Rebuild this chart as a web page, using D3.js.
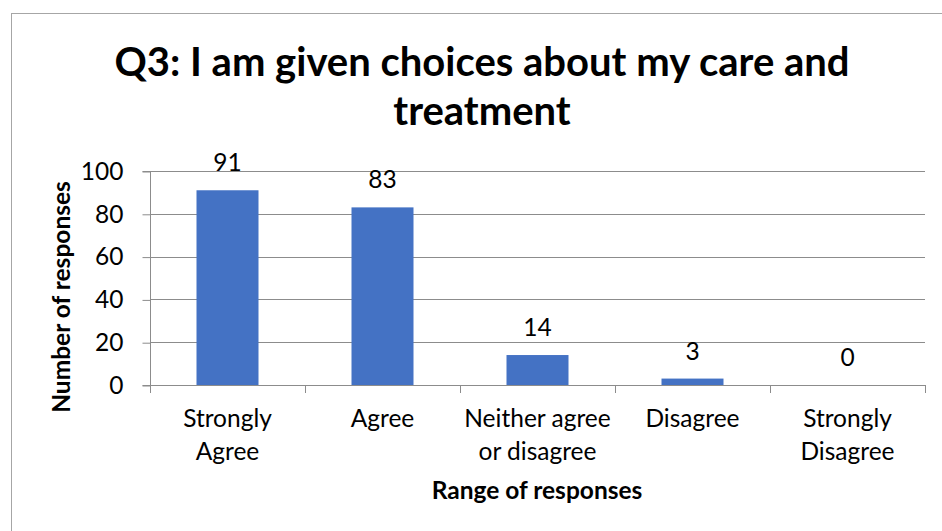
<!DOCTYPE html>
<html>
<head>
<meta charset="utf-8">
<script src="https://cdn.jsdelivr.net/npm/d3@7"></script>
<style>
  html, body { margin: 0; padding: 0; background: #fff; }
  svg { display: block; font-family: Lato, "Open Sans", sans-serif; }
</style>
</head>
<body>
<svg id="chart" width="942" height="531"></svg>
<script>
// Survey responses for Q3
const categories = [["Strongly", "Agree"], ["Agree"], ["Neither agree", "or disagree"], ["Disagree"], ["Strongly", "Disagree"]];
const responses = [91, 83, 14, 3, 0];
const yTicks = [0, 20, 40, 60, 80, 100];
const titleLines = ["Q3: I am given choices about my care and", "treatment"];
const xTitle = "Range of responses";
const yTitle = "Number of responses";

const svg = d3.select("#chart");
const plot = { left: 150, right: 925, top: 171, bottom: 385 };
const labelSize = 24.5;

// outer chart frame
svg.append("rect")
  .attr("x", 11.5).attr("y", 13.5)
  .attr("width", 1000).attr("height", 1000)
  .attr("fill", "none").attr("stroke", "#a6a6a6").attr("stroke-width", 1);

const idx = d3.range(categories.length);
const x = d3.scaleBand().domain(idx).range([plot.left, plot.right]).paddingInner(0.6).paddingOuter(0.3);
const y = d3.scaleLinear().domain([0, 100]).range([plot.bottom, plot.top]);

// horizontal gridlines
svg.append("g")
  .selectAll("line")
  .data(yTicks.filter(d => d > 0))
  .join("line")
  .attr("x1", plot.left).attr("x2", plot.right)
  .attr("y1", d => Math.round(y(d)) + 0.5).attr("y2", d => Math.round(y(d)) + 0.5)
  .attr("stroke", "#8c8c8c").attr("stroke-width", 1);

// bars
svg.append("g")
  .selectAll("rect")
  .data(responses)
  .join("rect")
  .attr("x", (d, i) => x(i))
  .attr("width", x.bandwidth())
  .attr("y", d => y(d))
  .attr("height", d => y(0) - y(d))
  .attr("fill", "#4472c4");

// value labels
svg.append("g")
  .selectAll("text")
  .data(responses)
  .join("text")
  .attr("x", (d, i) => x(i) + x.bandwidth() / 2)
  .attr("y", d => y(d) - 19)
  .attr("text-anchor", "middle")
  .attr("font-size", labelSize)
  .attr("fill", "#000")
  .text(d => d);

// y axis
const yAxis = d3.axisLeft(y).tickValues(yTicks).tickSize(8).tickPadding(19);
const gy = svg.append("g").attr("transform", `translate(${plot.left + 0.5},0.5)`).call(yAxis);
gy.select(".domain").attr("stroke", "#8c8c8c").attr("d", `M-8,${plot.bottom}H0V${plot.top}H-8`);
gy.selectAll(".tick line").attr("stroke", "#8c8c8c");
gy.selectAll(".tick text").attr("font-size", labelSize).attr("font-family", "Lato, sans-serif").attr("fill", "#000");

// x axis with ticks at category boundaries
const bounds = d3.range(categories.length + 1).map(i => plot.left + i * (plot.right - plot.left) / categories.length);
const gx = svg.append("g");
gx.append("line")
  .attr("x1", plot.left).attr("x2", plot.right)
  .attr("y1", plot.bottom + 0.5).attr("y2", plot.bottom + 0.5)
  .attr("stroke", "#8c8c8c");
gx.selectAll("line.tk")
  .data(bounds)
  .join("line").attr("class", "tk")
  .attr("x1", d => Math.round(d) + 0.5).attr("x2", d => Math.round(d) + 0.5)
  .attr("y1", plot.bottom).attr("y2", plot.bottom + 8)
  .attr("stroke", "#8c8c8c");

// category labels
const catG = svg.append("g")
  .selectAll("text")
  .data(categories)
  .join("text")
  .attr("text-anchor", "middle")
  .attr("font-size", labelSize)
  .attr("fill", "#000");
catG.each(function(lines, i) {
  const t = d3.select(this);
  lines.forEach((ln, j) => {
    t.append("tspan")
      .attr("x", x(i) + x.bandwidth() / 2)
      .attr("y", 427 + j * 33)
      .text(ln);
  });
});

// axis titles
svg.append("text")
  .attr("x", 537).attr("y", 499)
  .attr("text-anchor", "middle")
  .attr("font-size", labelSize).attr("font-weight", "bold")
  .text(xTitle);

svg.append("text")
  .attr("transform", "translate(70,297) rotate(-90)")
  .attr("text-anchor", "middle")
  .attr("font-size", labelSize).attr("font-weight", "bold")
  .text(yTitle);

// chart title
svg.append("g")
  .selectAll("text")
  .data(titleLines)
  .join("text")
  .attr("x", 482)
  .attr("y", (d, i) => 76 + i * 49)
  .attr("text-anchor", "middle")
  .attr("font-size", 40).attr("font-weight", "bold")
  .text(d => d);
</script>
</body>
</html>
